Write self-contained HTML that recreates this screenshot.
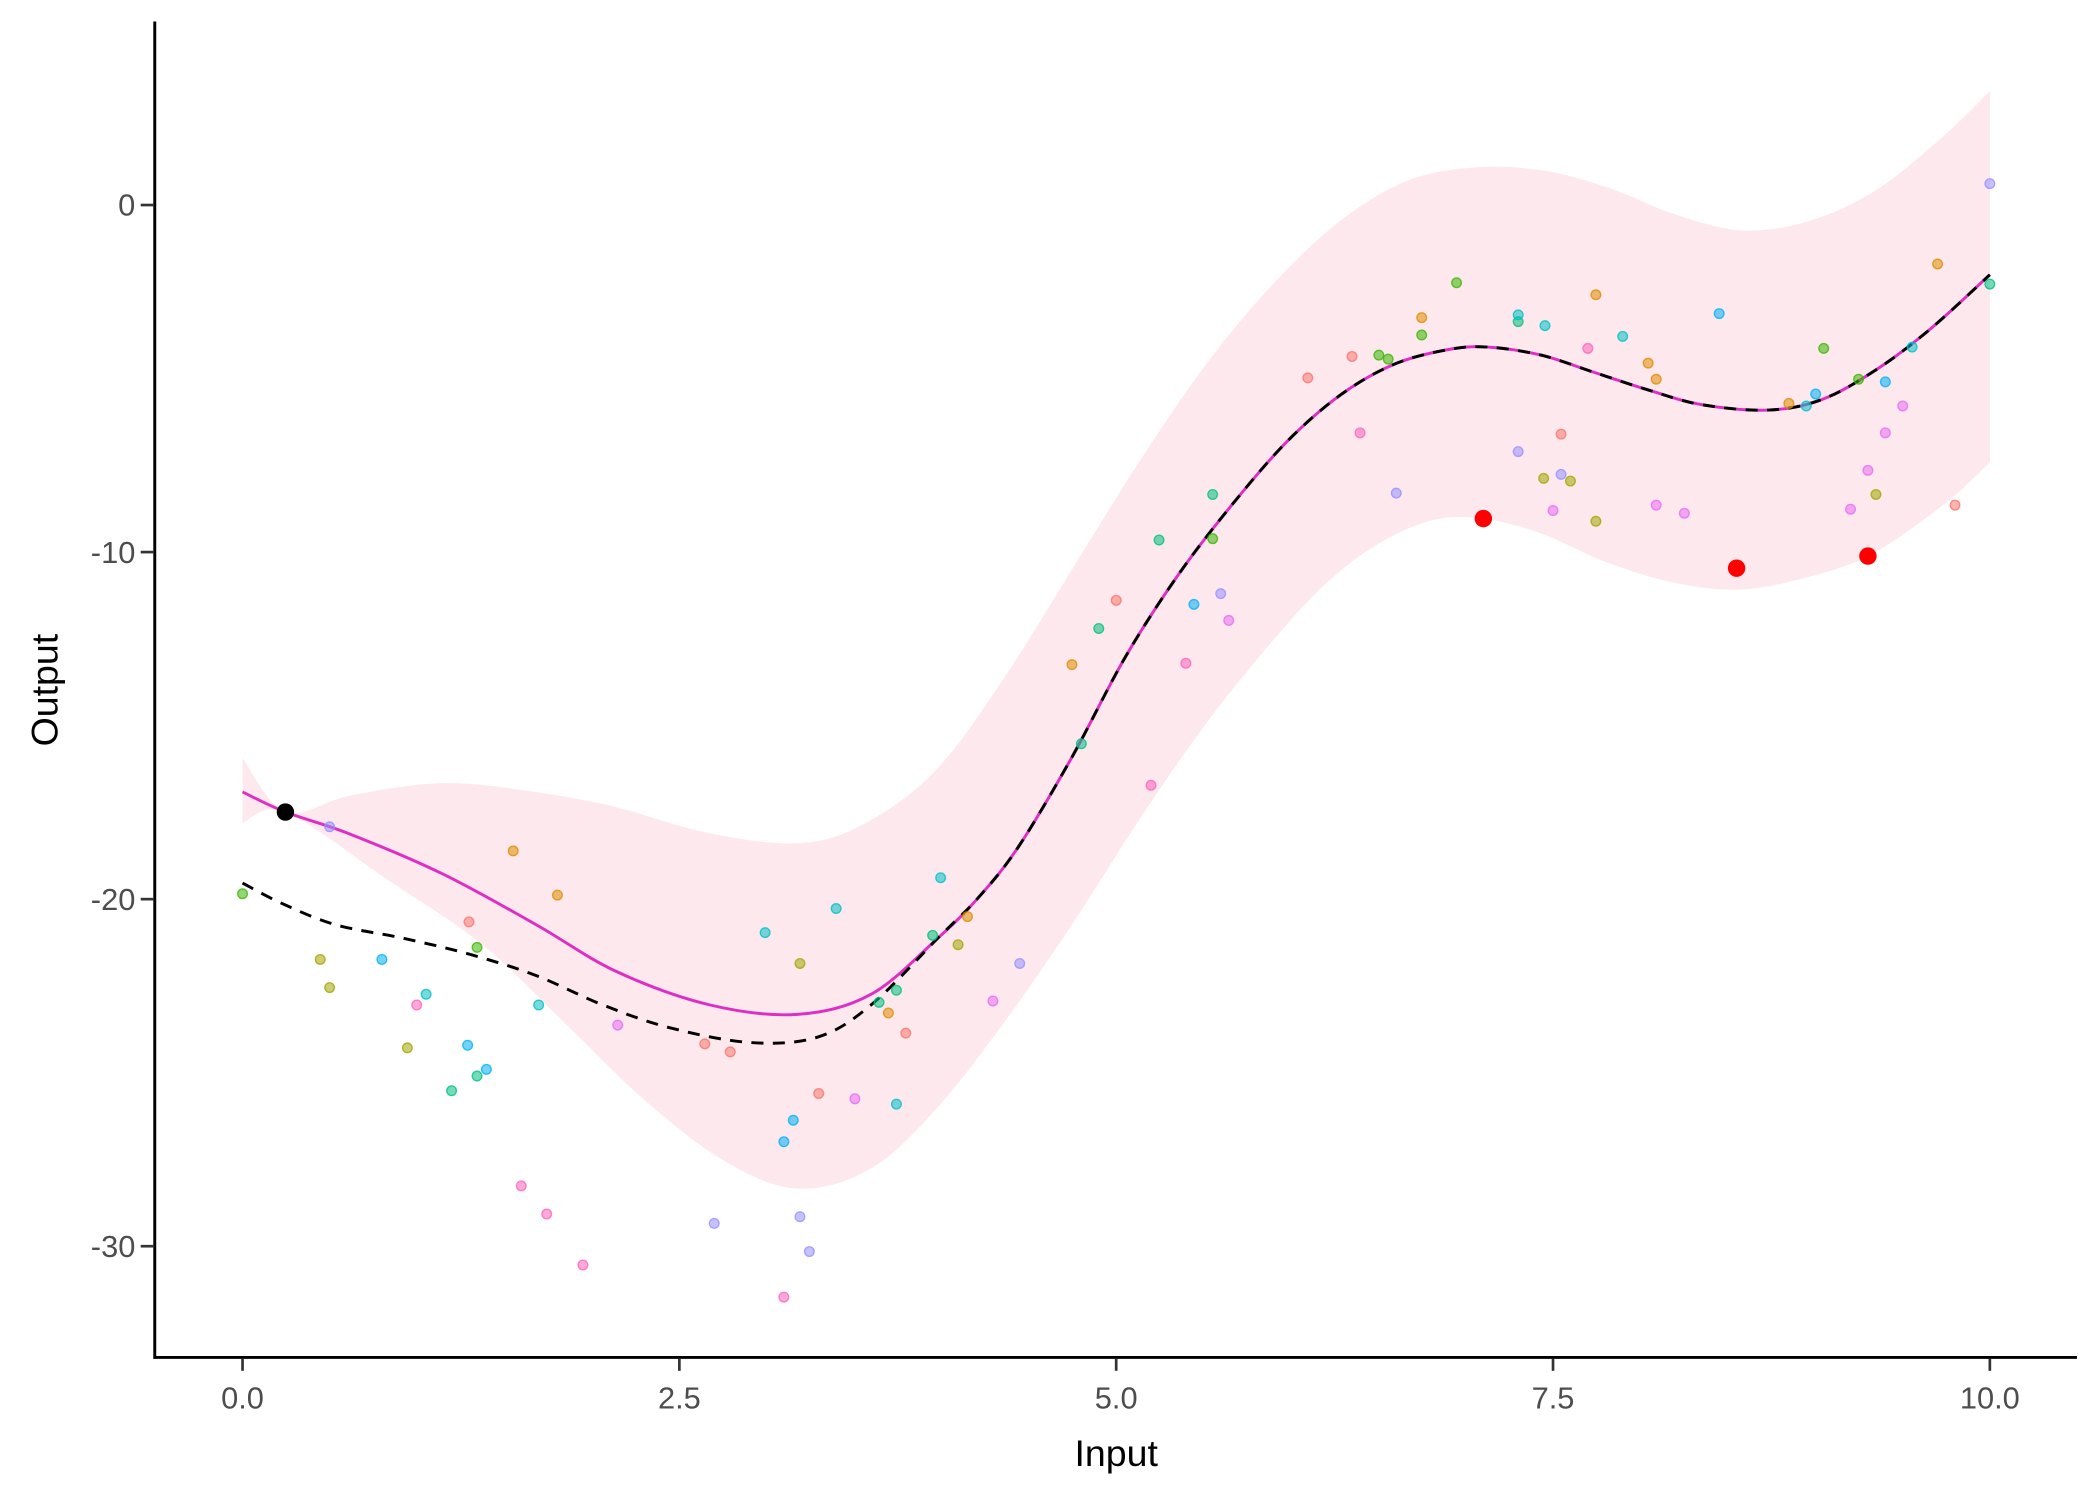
<!DOCTYPE html>
<html><head><meta charset="utf-8"><style>
html,body{margin:0;padding:0;background:#fff;}
svg{display:block;}
</style></head><body>
<svg width="2100" height="1500" viewBox="0 0 1567.2 1119.4" preserveAspectRatio="none" xmlns="http://www.w3.org/2000/svg" font-family="Liberation Sans, Arial, sans-serif">
<rect width="1567.2" height="1119.4" fill="#fff"/>
<path id="rib" fill="#fde8ed" d=""/>
<path id="mag" fill="none" stroke="#de2fc5" stroke-width="2.2" d=""/>
<path id="dash" fill="none" stroke="#000" stroke-width="2.2" stroke-dasharray="9,7" d=""/>
<g stroke-width="1" fill-opacity="0.55" stroke-opacity="0.8">
<g fill="#F8766D" stroke="#F8766D"><circle cx="350" cy="688" r="3.6"/><circle cx="526" cy="779" r="3.6"/><circle cx="545" cy="785" r="3.6"/><circle cx="611" cy="816" r="3.6"/><circle cx="676" cy="771" r="3.6"/><circle cx="833" cy="448" r="3.6"/><circle cx="976" cy="282" r="3.6"/><circle cx="1009" cy="266" r="3.6"/><circle cx="1165" cy="324" r="3.6"/><circle cx="1459" cy="377" r="3.6"/></g>
<g fill="#DE8C00" stroke="#DE8C00"><circle cx="383" cy="635" r="3.6"/><circle cx="416" cy="668" r="3.6"/><circle cx="663" cy="756" r="3.6"/><circle cx="722" cy="684" r="3.6"/><circle cx="800" cy="496" r="3.6"/><circle cx="1061" cy="237" r="3.6"/><circle cx="1191" cy="220" r="3.6"/><circle cx="1230" cy="271" r="3.6"/><circle cx="1236" cy="283" r="3.6"/><circle cx="1335" cy="301" r="3.6"/><circle cx="1446" cy="197" r="3.6"/></g>
<g fill="#A3A500" stroke="#A3A500"><circle cx="239" cy="716" r="3.6"/><circle cx="246" cy="737" r="3.6"/><circle cx="304" cy="782" r="3.6"/><circle cx="597" cy="719" r="3.6"/><circle cx="715" cy="705" r="3.6"/><circle cx="1152" cy="357" r="3.6"/><circle cx="1172" cy="359" r="3.6"/><circle cx="1191" cy="389" r="3.6"/><circle cx="1400" cy="369" r="3.6"/></g>
<g fill="#39B600" stroke="#39B600"><circle cx="181" cy="667" r="3.6"/><circle cx="356" cy="707" r="3.6"/><circle cx="905" cy="402" r="3.6"/><circle cx="1029" cy="265" r="3.6"/><circle cx="1036" cy="268" r="3.6"/><circle cx="1061" cy="250" r="3.6"/><circle cx="1087" cy="211" r="3.6"/><circle cx="1361" cy="260" r="3.6"/><circle cx="1387" cy="283" r="3.6"/></g>
<g fill="#00BF7D" stroke="#00BF7D"><circle cx="337" cy="814" r="3.6"/><circle cx="356" cy="803" r="3.6"/><circle cx="656" cy="748" r="3.6"/><circle cx="669" cy="739" r="3.6"/><circle cx="696" cy="698" r="3.6"/><circle cx="807" cy="555" r="3.6"/><circle cx="820" cy="469" r="3.6"/><circle cx="865" cy="403" r="3.6"/><circle cx="905" cy="369" r="3.6"/><circle cx="1133" cy="240" r="3.6"/><circle cx="1485" cy="212" r="3.6"/></g>
<g fill="#00BFC4" stroke="#00BFC4"><circle cx="318" cy="742" r="3.6"/><circle cx="402" cy="750" r="3.6"/><circle cx="571" cy="696" r="3.6"/><circle cx="624" cy="678" r="3.6"/><circle cx="669" cy="824" r="3.6"/><circle cx="702" cy="655" r="3.6"/><circle cx="1133" cy="235" r="3.6"/><circle cx="1153" cy="243" r="3.6"/><circle cx="1211" cy="251" r="3.6"/><circle cx="1348" cy="303" r="3.6"/><circle cx="1427" cy="259" r="3.6"/></g>
<g fill="#00B0F6" stroke="#00B0F6"><circle cx="285" cy="716" r="3.6"/><circle cx="349" cy="780" r="3.6"/><circle cx="363" cy="798" r="3.6"/><circle cx="585" cy="852" r="3.6"/><circle cx="592" cy="836" r="3.6"/><circle cx="891" cy="451" r="3.6"/><circle cx="1283" cy="234" r="3.6"/><circle cx="1355" cy="294" r="3.6"/><circle cx="1407" cy="285" r="3.6"/></g>
<g fill="#9590FF" stroke="#9590FF"><circle cx="246" cy="617" r="3.6"/><circle cx="533" cy="913" r="3.6"/><circle cx="597" cy="908" r="3.6"/><circle cx="604" cy="934" r="3.6"/><circle cx="761" cy="719" r="3.6"/><circle cx="911" cy="443" r="3.6"/><circle cx="1042" cy="368" r="3.6"/><circle cx="1133" cy="337" r="3.6"/><circle cx="1165" cy="354" r="3.6"/><circle cx="1485" cy="137" r="3.6"/></g>
<g fill="#E76BF3" stroke="#E76BF3"><circle cx="461" cy="765" r="3.6"/><circle cx="638" cy="820" r="3.6"/><circle cx="741" cy="747" r="3.6"/><circle cx="917" cy="463" r="3.6"/><circle cx="1159" cy="381" r="3.6"/><circle cx="1236" cy="377" r="3.6"/><circle cx="1257" cy="383" r="3.6"/><circle cx="1381" cy="380" r="3.6"/><circle cx="1394" cy="351" r="3.6"/><circle cx="1407" cy="323" r="3.6"/><circle cx="1420" cy="303" r="3.6"/></g>
<g fill="#FF62BC" stroke="#FF62BC"><circle cx="311" cy="750" r="3.6"/><circle cx="389" cy="885" r="3.6"/><circle cx="408" cy="906" r="3.6"/><circle cx="435" cy="944" r="3.6"/><circle cx="585" cy="968" r="3.6"/><circle cx="859" cy="586" r="3.6"/><circle cx="885" cy="495" r="3.6"/><circle cx="1015" cy="323" r="3.6"/><circle cx="1185" cy="260" r="3.6"/></g>
</g>
<circle cx="213" cy="606" r="6.5" fill="#000"/>
<circle cx="1107" cy="387" r="6.5" fill="#f00"/>
<circle cx="1296" cy="424" r="6.5" fill="#f00"/>
<circle cx="1394" cy="415" r="6.5" fill="#f00"/>
<g stroke="#000" stroke-width="2.2"><line x1="115.5" y1="16" x2="115.5" y2="1014"/><line x1="114.5" y1="1013" x2="1550" y2="1013"/></g>
<g stroke="#333" stroke-width="2"><line x1="105" y1="153" x2="115" y2="153"/><line x1="105" y1="412" x2="115" y2="412"/><line x1="105" y1="671" x2="115" y2="671"/><line x1="105" y1="930" x2="115" y2="930"/>
<line x1="181" y1="1014" x2="181" y2="1023"/><line x1="507" y1="1014" x2="507" y2="1023"/><line x1="833" y1="1014" x2="833" y2="1023"/><line x1="1159" y1="1014" x2="1159" y2="1023"/><line x1="1485" y1="1014" x2="1485" y2="1023"/></g>
<g fill="#4d4d4d" font-size="23" text-anchor="end"><text x="101" y="161">0</text><text x="101" y="420">-10</text><text x="101" y="679">-20</text><text x="101" y="938">-30</text></g>
<g fill="#4d4d4d" font-size="23" text-anchor="middle"><text x="181" y="1051">0.0</text><text x="507" y="1051">2.5</text><text x="833" y="1051">5.0</text><text x="1159" y="1051">7.5</text><text x="1485" y="1051">10.0</text></g>
<text x="833" y="1094" font-size="28" text-anchor="middle" fill="#000">Input</text>
<text transform="translate(43,515) rotate(-90)" font-size="28" text-anchor="middle" fill="#000">Output</text>
</svg>
<script>
function cr(p){var d="M"+p[0][0]+","+p[0][1];for(var i=0;i<p.length-1;i++){var a=p[Math.max(i-1,0)],b=p[i],c=p[i+1],e=p[Math.min(i+2,p.length-1)];
d+=" C"+(b[0]+(c[0]-a[0])/6)+","+(b[1]+(c[1]-a[1])/6)+" "+(c[0]-(e[0]-b[0])/6)+","+(c[1]-(e[1]-b[1])/6)+" "+c[0]+","+c[1];}return d;}
var tail=[[700,700],[730,670],[760,632],[800,565],[840,490],[880,428],[920,376],[960,330],[1000,295],[1040,272],[1080,261],[1110,259],[1150,265],[1190,278],[1230,291],[1270,302],[1320,306],[1360,298],[1400,276],[1440,246],[1485,205]];
var mag=[[181,591],[213,606],[260,622],[330,652],[400,690],[460,725],[530,750],[595,757],[650,742]].concat(tail);
var dash=[[181,659],[210,674],[250,690],[300,700],[350,712],[400,728],[450,750],[500,767],[560,778],[610,774],[650,750]].concat(tail);
var up=[[181,566],[213,606],[260,594],[320,585],[370,587],[450,600],[530,622],[600,629],[650,612],[700,573],[750,505],[800,425],[850,345],[900,272],[950,212],[1000,165],[1050,135],[1100,125],[1150,127],[1200,140],[1250,160],[1300,172],[1350,165],[1400,142],[1450,102],[1485,68]];
var lo=[[1485,345],[1450,377],[1394,415],[1340,433],[1296,440],[1250,435],[1200,420],[1150,398],[1107,387],[1070,388],[1030,405],[990,435],[950,478],[900,540],[850,612],[800,690],[750,762],[700,826],[650,872],[595,887],[540,866],[480,820],[420,762],[360,705],[290,657],[213,606],[181,614]];
document.getElementById('mag').setAttribute('d',cr(mag));
document.getElementById('dash').setAttribute('d',cr(dash));
document.getElementById('rib').setAttribute('d',cr(up)+" L"+cr(lo).slice(1)+" Z");
</script>
</body></html>
